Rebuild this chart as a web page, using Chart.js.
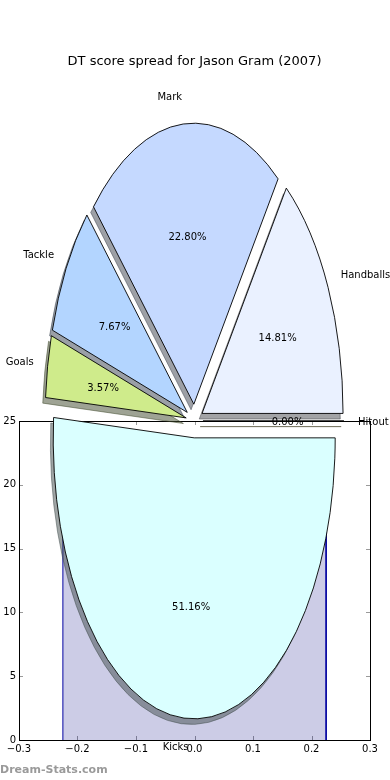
<!DOCTYPE html>
<html>
<head>
<meta charset="utf-8">
<script src="https://cdn.jsdelivr.net/npm/chart.js@4"></script>
<style>
html,body{margin:0;padding:0;background:#fff;}
#wrap{position:relative;width:390px;height:780px;overflow:hidden;}
#wrap canvas{position:absolute;left:0;top:0;}
</style>
</head>
<body>
<div id="wrap">
<canvas id="axes" width="390" height="780"></canvas>
<canvas id="pie" width="390" height="780"></canvas>
</div>
<script>
// ---------- data ----------
const chartTitle = 'DT score spread for Jason Gram (2007)';
const sliceLabels = ['Handballs', 'Mark', 'Tackle', 'Goals', 'Kicks', 'Hitout'];
const slicePercents = [14.81, 22.80, 7.67, 3.57, 51.16, 0.00];
const histEdges = [-0.225, 0.225];
const histCounts = [23];
const xLimits = [-0.3, 0.3];
const yLimits = [0, 25];
const watermarkText = 'Dream-Stats.com';

// ---------- style ----------
const sliceColors = ['#EAF1FF', '#C5D9FF', '#B3D5FF', '#CFEB8B', '#DAFFFF', '#F0E68C'];
const PIE_RADIUS = 141;
const STRETCH = 281 / 141;
const EXPLODE = 0.06;
const SHADOW_OFFSET = [-2.8, 5.6];
const LABEL_DIST = 1.1;
const PCT_DIST = 0.6;
const TEXT_DY = 1;
const FONT = 'DejaVu Sans';

Chart.defaults.font.family = FONT;
Chart.defaults.font.size = 10;
Chart.defaults.color = '#000';

function shadowColor(hex) {
  const n = parseInt(hex.slice(1), 16);
  const r = (n >> 16) & 255, g = (n >> 8) & 255, b = n & 255;
  return 'rgba(' + Math.round(r * 0.3) + ',' + Math.round(g * 0.3) + ',' + Math.round(b * 0.3) + ',0.5)';
}
function fmtTick(v, dec) {
  if (Math.abs(v) < 1e-9) v = 0;
  return v.toFixed(dec).replace('-', '\u2212');
}

// ---------- histogram axes ----------
const histPoints = [];
histCounts.forEach((c, i) => {
  histPoints.push({x: histEdges[i], y: 0});
  histPoints.push({x: histEdges[i], y: c});
  histPoints.push({x: histEdges[i + 1], y: c});
  histPoints.push({x: histEdges[i + 1], y: 0});
});

const axesPlugin = {
  id: 'axesDecor',
  beforeDatasetsDraw(chart) {
    const ctx = chart.ctx;
    const {left, right, top, bottom} = chart.chartArea;
    const xs = chart.scales.x, ys = chart.scales.y;
    ctx.save();
    ctx.strokeStyle = '#9a9a9a';
    ctx.lineWidth = 1;
    ctx.beginPath();
    xs.ticks.forEach(t => {
      const px = Math.round(xs.getPixelForValue(t.value)) + 0.5;
      ctx.moveTo(px, bottom); ctx.lineTo(px, bottom - 4);
      ctx.moveTo(px, top); ctx.lineTo(px, top + 4);
    });
    ys.ticks.forEach(t => {
      const py = Math.round(ys.getPixelForValue(t.value)) + 0.5;
      ctx.moveTo(left, py); ctx.lineTo(left + 4, py);
      ctx.moveTo(right, py); ctx.lineTo(right - 4, py);
    });
    ctx.stroke();
    ctx.restore();
  },
  afterDatasetsDraw(chart) {
    const ctx = chart.ctx;
    const {left, right, top, bottom} = chart.chartArea;
    ctx.save();
    ctx.strokeStyle = '#000';
    ctx.lineWidth = 1;
    ctx.strokeRect(left + 0.5, top + 0.5, right - left, bottom - top);
    ctx.restore();
  },
  afterDraw(chart) {
    const ctx = chart.ctx;
    ctx.save();
    ctx.font = 'bold 11px "' + FONT + '"';
    ctx.fillStyle = '#9a9a9a';
    ctx.textAlign = 'left';
    ctx.textBaseline = 'middle';
    ctx.fillText(watermarkText, 0, 770);
    ctx.restore();
  }
};

new Chart(document.getElementById('axes'), {
  type: 'line',
  data: {
    datasets: [{
      data: histPoints,
      fill: 'origin',
      backgroundColor: 'rgba(0,0,128,0.2)',
      borderColor: '#0000A0',
      borderWidth: 1,
      pointRadius: 0,
      tension: 0
    }]
  },
  options: {
    responsive: false,
    animation: false,
    events: [],
    layout: {padding: {left: 0, right: 20, top: 421, bottom: 0}},
    plugins: {legend: {display: false}, tooltip: {enabled: false}, title: {display: false}},
    scales: {
      x: {
        type: 'linear', min: xLimits[0], max: xLimits[1],
        afterFit: s => { s.height = 40; },
        grid: {display: false, drawTicks: false},
        border: {display: false},
        ticks: {stepSize: 0.1, padding: 3, maxRotation: 0, autoSkip: false,
                callback: v => fmtTick(v, 1)}
      },
      y: {
        type: 'linear', min: yLimits[0], max: yLimits[1],
        afterFit: s => { s.width = 19; },
        grid: {display: false, drawTicks: false},
        border: {display: false},
        ticks: {stepSize: 5, padding: 3, callback: v => fmtTick(v, 0)}
      }
    }
  },
  plugins: [axesPlugin]
});

// ---------- exploded elliptical pie ----------
function wedgeTransform(ctx, el, dx, dy) {
  const mid = (el.startAngle + el.endAngle) / 2;
  const r = el.outerRadius;
  ctx.translate(el.x + dx, el.y + dy);
  ctx.scale(1, -STRETCH);
  ctx.translate(EXPLODE * r * Math.cos(mid), EXPLODE * r * Math.sin(mid));
  ctx.translate(-el.x, -el.y);
}
function wedgePath(ctx, el) {
  ctx.beginPath();
  ctx.moveTo(el.x, el.y);
  ctx.arc(el.x, el.y, el.outerRadius, el.startAngle, el.endAngle);
  ctx.closePath();
}
function drawPieLabels(chart) {
  const ctx = chart.ctx;
  const meta = chart.getDatasetMeta(0);
  ctx.save();
  ctx.font = '10px "' + FONT + '"';
  ctx.fillStyle = '#000';
  ctx.textBaseline = 'middle';
  meta.data.forEach((el, i) => {
    const mid = (el.startAngle + el.endAngle) / 2;
    const r = el.outerRadius;
    const c = Math.cos(mid), s = Math.sin(mid);
    const dl = (LABEL_DIST + EXPLODE) * r;
    ctx.textAlign = c > 0 ? 'left' : 'right';
    ctx.fillText(sliceLabels[i], el.x + dl * c, el.y - STRETCH * dl * s + TEXT_DY);
    const dp = (PCT_DIST + EXPLODE) * r;
    ctx.textAlign = 'center';
    ctx.fillText(slicePercents[i].toFixed(2) + '%', el.x + dp * c, el.y - STRETCH * dp * s + TEXT_DY);
  });
  ctx.restore();
}

const piePlugin = {
  id: 'ellipsePie',
  beforeDatasetsDraw(chart) {
    const ctx = chart.ctx;
    const meta = chart.getDatasetMeta(0);
    // shadows
    meta.data.forEach((el, i) => {
      ctx.save();
      wedgeTransform(ctx, el, SHADOW_OFFSET[0], SHADOW_OFFSET[1]);
      wedgePath(ctx, el);
      ctx.restore();
      const c = shadowColor(sliceColors[i]);
      ctx.fillStyle = c;
      ctx.fill();
      ctx.strokeStyle = c;
      ctx.lineWidth = 1;
      ctx.stroke();
    });
    // wedges
    meta.data.forEach((el) => {
      ctx.save();
      wedgeTransform(ctx, el, 0, 0);
      el.draw(ctx);
      wedgePath(ctx, el);
      ctx.restore();
      ctx.strokeStyle = '#000';
      ctx.lineWidth = 0.9;
      ctx.lineJoin = 'miter';
      ctx.stroke();
    });
    drawPieLabels(chart);
    return false;
  }
};

new Chart(document.getElementById('pie'), {
  type: 'pie',
  data: {
    labels: sliceLabels,
    datasets: [{
      data: slicePercents,
      backgroundColor: sliceColors,
      borderWidth: 0,
      radius: PIE_RADIUS,
      rotation: 90
    }]
  },
  options: {
    responsive: false,
    animation: false,
    events: [],
    layout: {padding: {left: 0, right: 1, top: 0, bottom: 17.6}},
    plugins: {
      legend: {display: false},
      tooltip: {enabled: false},
      title: {
        display: true, text: chartTitle, color: '#000',
        font: {size: 13, weight: 'normal', family: FONT},
        padding: {top: 54, bottom: 10}
      }
    }
  },
  plugins: [piePlugin]
});
</script>
</body>
</html>
